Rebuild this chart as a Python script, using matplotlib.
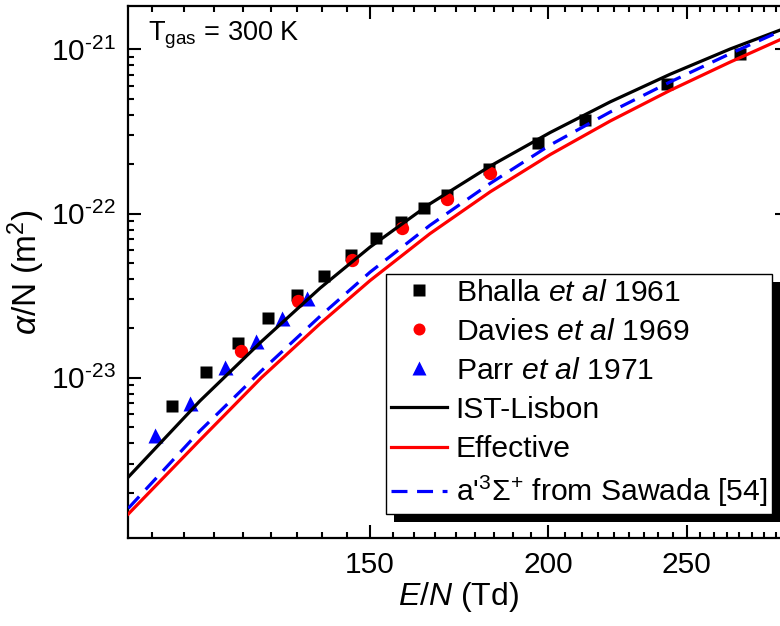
import numpy as np
import matplotlib
matplotlib.use("Agg")
import matplotlib.pyplot as plt
from matplotlib.ticker import FixedLocator, FuncFormatter, NullFormatter, LogFormatterSciNotation
from matplotlib.patches import Rectangle
from matplotlib.transforms import IdentityTransform

plt.rcParams['font.family'] = ['Liberation Sans', 'DejaVu Sans']
plt.rcParams['mathtext.fontset'] = 'custom'
plt.rcParams['mathtext.rm'] = 'Liberation Sans'
plt.rcParams['mathtext.it'] = 'Liberation Sans:italic'
plt.rcParams['mathtext.bf'] = 'Liberation Sans:bold'

# ---------------- data ----------------
bhalla_E = [109.0, 115.2, 121.2, 127.3, 133.3, 139.3, 145.4, 151.5, 157.6, 163.6,
            169.8, 181.8, 196.8, 212.3, 242.1, 272.5]
bhalla_a = [6.70e-24, 1.086e-23, 1.635e-23, 2.306e-23, 3.195e-23, 4.19e-23, 5.60e-23,
            7.07e-23, 8.93e-23, 1.086e-22, 1.297e-22, 1.868e-22, 2.70e-22, 3.71e-22,
            6.12e-22, 9.32e-22]

davies_E = [121.9, 133.5, 145.7, 157.9, 169.9, 181.9]
davies_a = [1.464e-23, 2.95e-23, 5.22e-23, 8.14e-23, 1.227e-22, 1.759e-22]

parr_E = [106.0, 112.1, 118.7, 124.7, 130.1, 135.5]
parr_a = [4.49e-24, 7.06e-24, 1.160e-23, 1.677e-23, 2.306e-23, 3.05e-23]

curve_E = [101.56, 114.0, 125.9, 138.4, 150.0, 165.2, 182.1, 200.6, 221.0, 243.4,
           268.1, 290.7]
ist_a = [2.49e-24, 7.24e-24, 1.665e-23, 3.52e-23, 6.25e-23, 1.146e-22, 1.946e-22,
         3.115e-22, 4.786e-22, 7.045e-22, 1.003e-21, 1.309e-21]
eff_a = [1.484e-24, 4.18e-24, 1.004e-23, 2.14e-23, 3.91e-23, 7.54e-23, 1.357e-22,
         2.286e-22, 3.66e-22, 5.62e-22, 8.35e-22, 1.144e-21]
saw_a = [1.608e-24, 4.757e-24, 1.105e-23, 2.374e-23, 4.399e-23, 8.477e-23, 1.527e-22,
         2.615e-22, 4.153e-22, 6.324e-22, 9.39e-22, 1.287e-21]

x_major = [150, 200, 250]
y_major = [1e-23, 1e-22, 1e-21]

# ---------------- figure ----------------
fig = plt.figure(figsize=(7.8, 6.26), dpi=100)
ax = fig.add_axes([128.3 / 780, (626 - 538.3) / 626, 659.9 / 780, 532.3 / 626])
ax.set_xscale('log')
ax.set_yscale('log')

ms = 8.8
ax.plot(bhalla_E, bhalla_a, 's', color='black', ms=ms, mec='none',
        label=r'Bhalla $\mathit{et\ al}$ 1961', zorder=3)
ax.plot(davies_E, davies_a, 'o', color='red', ms=ms + 0.8, mec='none',
        label=r'Davies $\mathit{et\ al}$ 1969', zorder=3.1)
ax.plot(parr_E, parr_a, '^', color='blue', ms=ms + 2.0, mec='none',
        label=r'Parr $\mathit{et\ al}$ 1971', zorder=3.2)
ax.plot(curve_E, ist_a, '-', color='black', lw=2.3, label='IST-Lisbon', zorder=4)
ax.plot(curve_E, eff_a, '-', color='red', lw=2.3, label='Effective', zorder=4)
ax.plot(curve_E, saw_a, '--', color='blue', lw=2.3, dashes=(5, 3),
        label=r"a$'^{3}\Sigma^{+}$ from Sawada [54]", zorder=4)

xlo, xhi = 101.56, 294.5
ylo, yhi = 1.056e-24, 1.834e-21
ax.set_xlim(xlo, xhi)
ax.set_ylim(ylo, yhi)

# x ticks (8 minor ticks evenly spaced in value between majors)
ax.xaxis.set_major_locator(FixedLocator(x_major))
edges = [100, 150, 200, 250, 300]
minors = []
for a, b in zip(edges[:-1], edges[1:]):
    minors += [a + (b - a) * k / 9 for k in range(1, 9)]
minors = [m for m in minors if xlo < m < xhi]
ax.xaxis.set_minor_locator(FixedLocator(minors))
ax.xaxis.set_major_formatter(FuncFormatter(lambda v, p: f'{int(round(v))}'))
ax.xaxis.set_minor_formatter(NullFormatter())

ax.yaxis.set_major_locator(FixedLocator(y_major))
ymin = [k * 10.0 ** e for e in range(-25, -20) for k in range(2, 10)]
ymin = [m for m in ymin if ylo < m < yhi]
ax.yaxis.set_minor_locator(FixedLocator(ymin))
ax.yaxis.set_major_formatter(FuncFormatter(
    lambda v, p: r'$\mathregular{10^{\text{-}%d}}$' % int(round(-np.log10(v)))))
ax.yaxis.set_minor_formatter(NullFormatter())

for side in ['left', 'right', 'top', 'bottom']:
    ax.spines[side].set_linewidth(1.6)
ax.tick_params(which='both', direction='in', top=True, right=True, width=1.5)
ax.tick_params(which='major', length=9.5, labelsize=21.5, pad=9)
ax.tick_params(which='minor', length=4.5)

ax.set_xlabel(r'$\mathit{E/N}$ (Td)', fontsize=23, labelpad=1)
ax.set_ylabel(r'$\alpha$/N (m$^2$)', fontsize=24, labelpad=3)

ax.text(0.03, 0.975, r'T$_\mathregular{gas}$ = 300 K', transform=ax.transAxes,
        fontsize=19.5, va='top', ha='left')

leg = ax.legend(loc='upper left', bbox_to_anchor=(386 / 780, (626 - 274) / 626),
                bbox_transform=fig.transFigure, fontsize=21.7, frameon=True,
                fancybox=False, framealpha=1, edgecolor='black',
                borderpad=0.15, handlelength=1.88, handletextpad=0.28,
                labelspacing=0.37, borderaxespad=0, markerscale=0.9)
leg.get_frame().set_linewidth(1.0)
leg.set_zorder(6)

try:
    fig.canvas.draw()
except Exception:
    ax.yaxis.set_major_formatter(LogFormatterSciNotation())
    fig.canvas.draw()

bb = leg.get_window_extent()
shadow = Rectangle((bb.x0 + 8, bb.y0 - 8), bb.width, bb.height,
                   transform=IdentityTransform(), facecolor='black',
                   edgecolor='none', zorder=5.5, clip_on=False)
ax.add_artist(shadow)

fig.savefig('out.png', dpi=100)
